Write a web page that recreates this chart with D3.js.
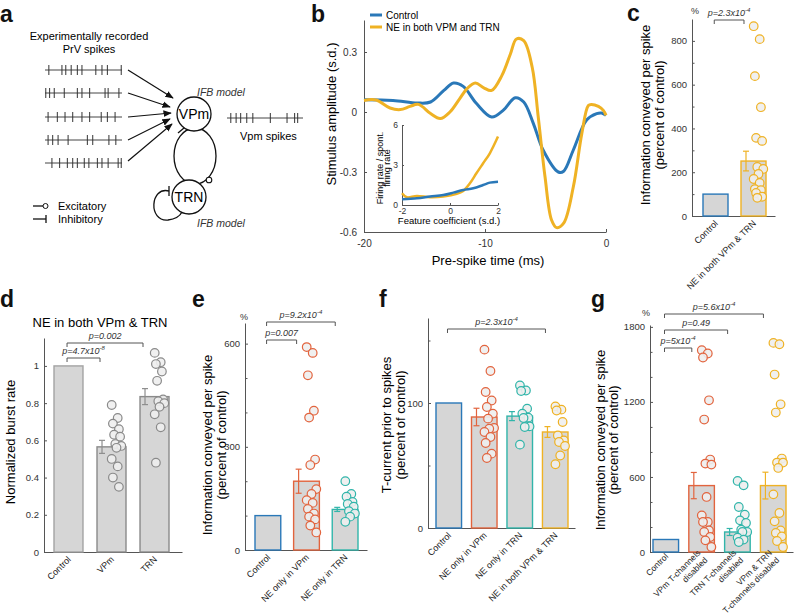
<!DOCTYPE html>
<html>
<head>
<meta charset="utf-8">
<script src="https://cdn.jsdelivr.net/npm/d3@7"></script>
<style>
  body { margin: 0; background: #fff; }
  svg { font-family: "Liberation Sans", Arial, sans-serif; }
</style>
</head>
<body>
<svg id="fig" width="800" height="614"></svg>
<script>
// ---------- data ----------
// panel a: spike times (arbitrary 0-100 window)
var prvSpikes = [
  [5, 22, 27, 34, 42, 48, 66, 74, 81, 99],
  [1, 6, 12, 25, 42, 48, 58, 78, 82, 96],
  [4, 16, 26, 36, 48, 58, 73, 81, 91],
  [4, 10, 17, 30, 55, 62, 83, 92],
  [9, 19, 29, 36, 42, 51, 57, 68, 74, 82, 95, 99]
];
var vpmSpikes = [5, 12, 18, 26, 34, 57, 79, 89, 93];

// panel b: spike-triggered stimulus
var bControlT = [-20, -17.6, -15.6, -14.5, -13.4, -12.6, -11.8, -10.7, -9.45, -8.5, -7.5, -6.8, -6.0, -5.2, -3.94, -3.5, -2.7, -1.6, -0.77, -0.36, 0];
var bControlV = [0.061, 0.058, 0.045, 0.05, 0.108, 0.145, 0.128, 0.042, -0.025, 0.008, 0.071, 0.05, -0.058, -0.19, -0.30, -0.296, -0.19, -0.04, -0.008, -0.005, -0.017];
var bNET = [-20, -19, -17.85, -17, -16.2, -15.5, -14.5, -13.7, -12.9, -12.1, -11.5, -10.8, -10.1, -9.45, -8.6, -7.9, -7.4, -6.8, -6.1, -5.6, -5.04, -4.5, -4.08, -3.5, -2.7, -2.0, -1.46, -1.2, -0.63, -0.22, 0];
var bNEV = [0.058, 0.06, 0.02, 0.012, 0.028, 0.038, -0.008, -0.033, 0.0, 0.066, 0.116, 0.145, 0.121, 0.108, 0.183, 0.29, 0.365, 0.357, 0.224, -0.025, -0.324, -0.54, -0.578, -0.556, -0.374, -0.108, 0.033, 0.038, 0.028, 0.008, -0.017];
var bTicksY = [-0.6, -0.3, 0, 0.3];
var bTicksX = [-20, -10, 0];

// panel b inset: nonlinearity
var insetControlX = [-2, -1.38, -0.83, -0.28, 0.14, 0.55, 0.97, 1.38, 1.66, 2];
var insetControlY = [0.43, 0.5, 0.63, 0.75, 0.93, 1.13, 1.25, 1.5, 1.68, 1.75];
var insetNEX = [-2, -1.8, -1.38, -0.83, -0.28, 0.28, 0.55, 0.83, 1.1, 1.38, 1.66, 2];
var insetNEY = [0.88, 0.58, 0.68, 0.58, 0.63, 0.83, 1.05, 1.63, 2.38, 3.13, 3.88, 5.13];

// panel c
var cCats = ["Control", "NE in both VPm & TRN"];
var cMeans = [100, 251];
var cErr = [0, 45];
var cPoints = [[], [867, 808, 639, 497, 357, 343, 224, 215, 192, 169, 151, 123, 118, 105, 88, 83]];

// panel d
var dCats = ["Control", "VPm", "TRN"];
var dMeans = [1, 0.565, 0.835];
var dErr = [0, 0.035, 0.043];
var dPoints = [[],
  [0.79, 0.72, 0.69, 0.66, 0.63, 0.62, 0.58, 0.57, 0.56, 0.50, 0.46, 0.40, 0.35],
  [1.07, 1.02, 1.01, 0.97, 0.92, 0.82, 0.81, 0.80, 0.78, 0.74, 0.67, 0.48]];

// panel e
var eCats = ["Control", "NE only in VPm", "NE only in TRN"];
var eMeans = [100, 200, 118];
var eErr = [0, 35, 6];
var ePoints = [[],
  [590, 573, 508, 405, 385, 263, 247, 177, 163, 145, 137, 119, 106, 97, 89, 71, 51],
  [200, 163, 155, 140, 134, 126, 113, 106, 97, 82]];

// panel f
var fCats = ["Control", "NE only in VPm", "NE only in TRN", "NE in both VPm & TRN"];
var fMeans = [100, 88.8, 89.5, 76.8];
var fErr = [0, 7, 3.6, 4.3];
var fPoints = [[],
  [142.7, 125.6, 108.8, 102, 96.8, 91.5, 87.5, 80, 79.5, 76.8, 72.8, 68, 59.5, 56],
  [114, 110, 109.6, 95.5, 91.5, 88.3, 88, 81.3, 80.8, 66.7],
  [97.3, 94.7, 94, 84.8, 74, 70, 68.8, 65.6, 58, 51]];

// panel g
var gCats = [["Control"], ["VPm T-channels", "disabled"], ["TRN T-channels", "disabled"], ["VPm & TRN", "T-channels disabled"]];
var gMeans = [100, 531, 160, 531];
var gErr = [0, 105, 28, 107];
var gPoints = [[],
  [1613, 1587, 1555, 1213, 1059, 739, 707, 699, 440, 293, 240, 240, 173, 160, 120, 93, 40],
  [568, 533, 360, 299, 253, 232, 179, 160, 160, 115, 99, 80],
  [1672, 1661, 1419, 1181, 1115, 747, 715, 715, 672, 461, 312, 245, 173, 152, 125, 88, 40]];

// ---------- style ----------
var BLUE = "#2a78b8", GOLD = "#efb224", RED = "#e2643e", TEAL = "#31b5aa", GRAY = "#8e8e8e";
var AX = "#555";

var svg = d3.select("#fig");

function styleAxis(sel, fs) {
  sel.attr("font-family", null).attr("font-size", fs);
  sel.selectAll("path, line").attr("stroke", AX).attr("stroke-width", 1);
  sel.selectAll("text").attr("fill", "#333");
}

function panelLabel(t, x, y) {
  svg.append("text").attr("x", x).attr("y", y).attr("font-size", 23)
    .attr("font-weight", "bold").attr("fill", "#111").text(t);
}

function pText(sel, x, y, t, sup) {
  var tx = sel.append("text").attr("x", x).attr("y", y).attr("text-anchor", "middle")
    .attr("font-size", 9).attr("font-style", "italic").attr("fill", "#333");
  tx.append("tspan").text(t);
  if (sup) tx.append("tspan").attr("font-size", 6).attr("dy", -4).text(sup);
}

// ---------- panel a ----------
function drawA() {
  var g = svg.append("g");
  var t = d3.scaleLinear().domain([0, 100]).range([45, 122]);
  var rowY = [70, 93, 117, 140, 163];
  prvSpikes.forEach(function(train, i) {
    var y = rowY[i];
    g.append("line").attr("x1", 45).attr("x2", 122).attr("y1", y).attr("y2", y)
      .attr("stroke", "#444").attr("stroke-width", 1);
    g.selectAll(null).data(train).enter().append("line")
      .attr("x1", function(d) { return t(d); }).attr("x2", function(d) { return t(d); })
      .attr("y1", y - 5).attr("y2", y + 5).attr("stroke", "#333").attr("stroke-width", 1);
  });

  svg.append("defs").append("marker").attr("id", "arr")
    .attr("viewBox", "0 0 10 10").attr("refX", 9).attr("refY", 5)
    .attr("markerWidth", 7).attr("markerHeight", 7).attr("orient", "auto")
    .append("path").attr("d", "M0,1 L10,5 L0,9 Z").attr("fill", "#111");

  var ends = [[173, 98], [170, 107], [171, 113], [170, 119], [172, 124]];
  var starts = [[128, 70], [128, 93], [128, 117], [128, 140], [128, 161]];
  starts.forEach(function(s, i) {
    g.append("line").attr("x1", s[0]).attr("y1", s[1]).attr("x2", ends[i][0]).attr("y2", ends[i][1])
      .attr("stroke", "#111").attr("stroke-width", 1.2).attr("marker-end", "url(#arr)");
  });

  // loop between VPm and TRN
  g.append("ellipse").attr("cx", 195).attr("cy", 156).attr("rx", 21).attr("ry", 28)
    .attr("fill", "none").attr("stroke", "#111").attr("stroke-width", 1.3);
  g.append("circle").attr("cx", 194).attr("cy", 114).attr("r", 17)
    .attr("fill", "#fff").attr("stroke", "#111").attr("stroke-width", 1.3);
  g.append("circle").attr("cx", 189).attr("cy", 197).attr("r", 17)
    .attr("fill", "#fff").attr("stroke", "#111").attr("stroke-width", 1.3);
  // inhibitory end at VPm
  g.append("line").attr("x1", 178).attr("y1", 133).attr("x2", 184).attr("y2", 128)
    .attr("stroke", "#111").attr("stroke-width", 1.3);
  // excitatory end at TRN
  g.append("circle").attr("cx", 209).attr("cy", 180).attr("r", 2.8)
    .attr("fill", "#fff").attr("stroke", "#111").attr("stroke-width", 1.1);
  // TRN self loop
  g.append("path").attr("d", "M169,191 C150,186 148,222 168,220 C176,219 180,216 182,212")
    .attr("fill", "none").attr("stroke", "#111").attr("stroke-width", 1.3);
  g.append("line").attr("x1", 169).attr("y1", 186).attr("x2", 169).attr("y2", 196)
    .attr("stroke", "#111").attr("stroke-width", 1.3);

  g.append("text").attr("x", 194).attr("y", 119).attr("text-anchor", "middle")
    .attr("font-size", 14).text("VPm");
  g.append("text").attr("x", 189).attr("y", 202).attr("text-anchor", "middle")
    .attr("font-size", 14).text("TRN");
  g.append("text").attr("x", 197).attr("y", 96).attr("font-size", 10.5)
    .attr("font-style", "italic").attr("fill", "#333").text("IFB model");
  g.append("text").attr("x", 197).attr("y", 227).attr("font-size", 10.5)
    .attr("font-style", "italic").attr("fill", "#333").text("IFB model");

  // output spike train
  var t2 = d3.scaleLinear().domain([0, 100]).range([227, 303]);
  g.append("line").attr("x1", 227).attr("x2", 303).attr("y1", 118).attr("y2", 118)
    .attr("stroke", "#444");
  g.selectAll(null).data(vpmSpikes).enter().append("line")
    .attr("x1", function(d) { return t2(d); }).attr("x2", function(d) { return t2(d); })
    .attr("y1", 113).attr("y2", 123).attr("stroke", "#333");
  g.append("text").attr("x", 240).attr("y", 140).attr("font-size", 11).text("Vpm spikes");

  g.append("text").attr("x", 89).attr("y", 40).attr("text-anchor", "middle")
    .attr("font-size", 11).text("Experimentally recorded");
  g.append("text").attr("x", 89).attr("y", 53).attr("text-anchor", "middle")
    .attr("font-size", 11).text("PrV spikes");

  // legend
  g.append("line").attr("x1", 33).attr("x2", 43).attr("y1", 206).attr("y2", 206).attr("stroke", "#111").attr("stroke-width", 1.3);
  g.append("circle").attr("cx", 45.5).attr("cy", 206).attr("r", 2.5).attr("fill", "#fff").attr("stroke", "#111");
  g.append("line").attr("x1", 33).attr("x2", 46).attr("y1", 219).attr("y2", 219).attr("stroke", "#111").attr("stroke-width", 1.3);
  g.append("line").attr("x1", 46).attr("x2", 46).attr("y1", 215).attr("y2", 223).attr("stroke", "#111").attr("stroke-width", 1.3);
  g.append("text").attr("x", 58).attr("y", 210).attr("font-size", 11).text("Excitatory");
  g.append("text").attr("x", 58).attr("y", 223).attr("font-size", 11).text("Inhibitory");
}

// ---------- panel b ----------
function drawB() {
  var g = svg.append("g");
  var x = d3.scaleLinear().domain([-20, 0]).range([364, 606]);
  var y = d3.scaleLinear().domain([-0.6, 0.46]).range([232, 20]);

  g.append("g").attr("transform", "translate(364,0)")
    .call(d3.axisLeft(y).tickValues(bTicksY).tickFormat(String).tickSize(-3).tickSizeOuter(0).tickPadding(7))
    .call(styleAxis, 10);
  g.append("g").attr("transform", "translate(0,232)")
    .call(d3.axisBottom(x).tickValues(bTicksX).tickFormat(String).tickSize(-3).tickSizeOuter(0).tickPadding(8))
    .call(styleAxis, 10);

  var line = d3.line().x(function(d) { return x(d[0]); }).y(function(d) { return y(d[1]); })
    .curve(d3.curveCatmullRom.alpha(0.5));
  g.append("path").datum(d3.zip(bControlT, bControlV)).attr("d", line)
    .attr("fill", "none").attr("stroke", BLUE).attr("stroke-width", 3);
  g.append("path").datum(d3.zip(bNET, bNEV)).attr("d", line)
    .attr("fill", "none").attr("stroke", GOLD).attr("stroke-width", 3);

  g.append("text").attr("transform", "translate(336,114) rotate(-90)").attr("text-anchor", "middle")
    .attr("font-size", 13).text("Stimulus amplitude (s.d.)");
  g.append("text").attr("x", 488).attr("y", 265).attr("text-anchor", "middle")
    .attr("font-size", 13).text("Pre-spike time (ms)");

  // legend
  var leg = [["Control", BLUE, 15], ["NE in both VPM and TRN", GOLD, 27]];
  leg.forEach(function(l) {
    g.append("line").attr("x1", 370).attr("x2", 382).attr("y1", l[2]).attr("y2", l[2])
      .attr("stroke", l[1]).attr("stroke-width", 3);
    g.append("text").attr("x", 386).attr("y", l[2] + 3.5).attr("font-size", 10).text(l[0]);
  });

  // inset
  var xi = d3.scaleLinear().domain([-2, 2]).range([402, 498]);
  var yi = d3.scaleLinear().domain([0, 6]).range([205, 125]);
  g.append("g").attr("transform", "translate(402,0)")
    .call(d3.axisLeft(yi).tickValues([0, 3, 6]).tickFormat(String).tickSize(-2).tickSizeOuter(0).tickPadding(4))
    .call(styleAxis, 8.5);
  g.append("g").attr("transform", "translate(0,205)")
    .call(d3.axisBottom(xi).tickValues([-2, 0, 2]).tickFormat(String).tickSize(-2).tickSizeOuter(0).tickPadding(3))
    .call(styleAxis, 8.5);
  var iline = d3.line().x(function(d) { return xi(d[0]); }).y(function(d) { return yi(d[1]); })
    .curve(d3.curveCatmullRom.alpha(0.5));
  g.append("path").datum(d3.zip(insetNEX, insetNEY)).attr("d", iline)
    .attr("fill", "none").attr("stroke", GOLD).attr("stroke-width", 2.5);
  g.append("path").datum(d3.zip(insetControlX, insetControlY)).attr("d", iline)
    .attr("fill", "none").attr("stroke", BLUE).attr("stroke-width", 2.5);
  g.append("text").attr("transform", "translate(383,168) rotate(-90)").attr("text-anchor", "middle")
    .attr("font-size", 9).text("Firing rate / spont.");
  g.append("text").attr("transform", "translate(390,168) rotate(-90)").attr("text-anchor", "middle")
    .attr("font-size", 9).text("firing rate");
  g.append("text").attr("x", 449).attr("y", 224).attr("text-anchor", "middle")
    .attr("font-size", 9.5).text("Feature coefficient (s.d.)");
}

// ---------- bar panels ----------
function jit(j) { return ((j * 5) % 9 - 4) * 1.2; }

function barPanel(p) {
  var g = svg.append("g");
  var x = d3.scaleBand().domain(d3.range(p.means.length)).range(p.xr).paddingInner(p.pad).paddingOuter(0);
  var y = d3.scaleLinear().domain(p.yd).range(p.yr);
  var bw = x.bandwidth();
  var labFs = p.labFs || 9, labDy = p.labDy || 8;

  // axes
  g.append("g").attr("transform", "translate(" + p.yAxisX + ",0)")
    .call(d3.axisLeft(y).tickValues(p.ticks).tickFormat(String).tickSize(-3).tickSizeOuter(0).tickPadding(5))
    .call(styleAxis, 9.5);
  if (p.minor) {
    g.append("g").attr("transform", "translate(" + p.yAxisX + ",0)")
      .call(d3.axisLeft(y).tickValues(p.minor).tickFormat("").tickSize(-2.5).tickSizeOuter(0))
      .call(styleAxis, 9.5)
      .select(".domain").remove();
  }
  g.append("g").attr("transform", "translate(0," + y(0) + ")")
    .call(d3.axisBottom(d3.scaleLinear().range(p.axisX)).tickValues([]).tickSizeOuter(0))
    .call(styleAxis, 9.5);

  // bars
  g.selectAll(".bar").data(p.means).enter().append("rect")
    .attr("x", function(d, i) { return x(i); })
    .attr("y", function(d) { return y(d); })
    .attr("width", bw)
    .attr("height", function(d) { return y(0) - y(d); })
    .attr("fill", "#d6d6d6")
    .attr("stroke", function(d, i) { return p.colors[i]; })
    .attr("stroke-width", 1.4);

  // points
  p.points.forEach(function(arr, i) {
    g.selectAll(null).data(arr).enter().append("circle")
      .attr("cx", function(d, j) { return x(i) + bw / 2 + 5 + jit(j); })
      .attr("cy", function(d) { return y(d); })
      .attr("r", 4.3)
      .attr("fill", "#eeeeee").attr("fill-opacity", 0.9)
      .attr("stroke", p.colors[i]).attr("stroke-width", 1.2);
  });

  // error bars
  p.means.forEach(function(m, i) {
    if (!p.err[i]) return;
    var ex = x(i) + 5;
    var c = p.errColors ? p.errColors[i] : p.colors[i];
    g.append("line").attr("x1", ex).attr("x2", ex).attr("y1", y(m - p.err[i])).attr("y2", y(m + p.err[i]))
      .attr("stroke", c).attr("stroke-width", 1.2);
    [m - p.err[i], m + p.err[i]].forEach(function(v) {
      g.append("line").attr("x1", ex - 3).attr("x2", ex + 3).attr("y1", y(v)).attr("y2", y(v))
        .attr("stroke", c).attr("stroke-width", 1.2);
    });
  });

  // category labels
  var labs = g.selectAll(".xl").data(p.cats).enter().append("text")
    .attr("transform", function(d, i) {
      return "translate(" + (x(i) + bw / 2 + 3) + "," + (y(0) + labDy) + ") rotate(-45)";
    })
    .attr("text-anchor", "end").attr("font-size", labFs).attr("fill", "#222");
  labs.each(function(d) {
    var lines = Array.isArray(d) ? d : [d];
    var t = d3.select(this);
    lines.forEach(function(s, k) {
      t.append("tspan").attr("x", 0).attr("y", (k - (lines.length - 1) / 2) * 10).text(s);
    });
  });

  // significance brackets
  (p.brackets || []).forEach(function(b) {
    var x1 = x(b.a) + bw * 0.45, x2 = x(b.b) + 3;
    g.append("path").attr("d", "M" + x1 + "," + (b.y + 4) + "V" + b.y + "H" + x2 + "V" + (b.y + 4))
      .attr("fill", "none").attr("stroke", AX).attr("stroke-width", 1);
    pText(g, (x1 + x2) / 2, b.y - 4, b.t, b.s);
  });

  if (p.pct) {
    g.append("text").attr("x", p.pct[0]).attr("y", p.pct[1]).attr("text-anchor", "middle")
      .attr("font-size", 9).attr("fill", "#333").text("%");
  }
  p.ylab.forEach(function(l) {
    g.append("text").attr("transform", "translate(" + l[1] + "," + p.ylabY + ") rotate(-90)")
      .attr("text-anchor", "middle").attr("font-size", 13).text(l[0]);
  });
}

drawA();
drawB();

barPanel({
  cats: cCats, means: cMeans, err: cErr, points: cPoints, colors: [BLUE, GOLD],
  xr: [703, 766], pad: 0.342, yd: [0, 900], yr: [216, 19],
  ticks: [0, 200, 400, 600, 800], minor: [100, 300, 500, 700],
  yAxisX: 692, axisX: [692, 775], pct: [695, 14],
  brackets: [{a: 0, b: 1, y: 20, t: "p=2.3x10", s: "-4"}],
  ylab: [["Information conveyed per spike", 650], ["(percent of control)", 664]], ylabY: 115
});

barPanel({
  cats: dCats, means: dMeans, err: dErr, points: dPoints,
  colors: ["#a3a3a3", "#8a8a8a", "#8a8a8a"], errColors: [GRAY, GRAY, GRAY],
  xr: [54, 169], pad: 0.326, yd: [0, 1.15], yr: [552, 338],
  ticks: [0, 0.2, 0.4, 0.6, 0.8, 1],
  yAxisX: 44, axisX: [44, 182],
  brackets: [{a: 0, b: 2, y: 343, t: "p=0.002"}, {a: 0, b: 1, y: 358, t: "p=4.7x10", s: "-8"}],
  ylab: [["Normalized burst rate", 15]], ylabY: 442
});
svg.append("text").attr("x", 100).attr("y", 327).attr("text-anchor", "middle")
  .attr("font-size", 13).text("NE in both VPm & TRN");

barPanel({
  cats: eCats, means: eMeans, err: eErr, points: ePoints, colors: [BLUE, RED, TEAL],
  xr: [255, 358], pad: 0.333, yd: [0, 660], yr: [550, 323],
  ticks: [0, 300, 600], minor: [100, 200, 400, 500],
  yAxisX: 245, axisX: [245, 367], pct: [244, 320],
  brackets: [{a: 0, b: 2, y: 322, t: "p=9.2x10", s: "-4"}, {a: 0, b: 1, y: 340, t: "p=0.007"}],
  ylab: [["Information conveyed per spike", 212], ["(percent of control)", 226]], ylabY: 445
});

barPanel({
  cats: fCats, means: fMeans, err: fErr, points: fPoints, colors: [BLUE, RED, TEAL, GOLD],
  xr: [436, 568], pad: 0.28, yd: [0, 168], yr: [528, 318],
  ticks: [0, 100], minor: [50, 150],
  yAxisX: 428, axisX: [428, 575],
  brackets: [{a: 0, b: 3, y: 329, t: "p=2.3x10", s: "-4"}],
  ylab: [["T-current prior to spikes", 391], ["(percent of control)", 405]], ylabY: 425
});

barPanel({
  cats: gCats, means: gMeans, err: gErr, points: gPoints, colors: [BLUE, RED, TEAL, GOLD],
  xr: [653, 786], pad: 0.286, yd: [0, 1815], yr: [552, 325],
  ticks: [0, 600, 1200, 1800], minor: [200, 400, 800, 1000, 1400, 1600],
  yAxisX: 650, axisX: [650, 793], pct: [646, 316],
  brackets: [{a: 0, b: 3, y: 314, t: "p=5.6x10", s: "-4"}, {a: 0, b: 2, y: 330, t: "p=0.49"},
             {a: 0, b: 1, y: 348, t: "p=5x10", s: "-4"}],
  ylab: [["Information conveyed per spike", 605], ["(percent of control)", 618]], ylabY: 440,
  labFs: 8.5, labDy: 5
});

panelLabel("a", 0, 22);
panelLabel("b", 311, 22);
panelLabel("c", 627, 21);
panelLabel("d", 0, 307);
panelLabel("e", 192, 307);
panelLabel("f", 379, 307);
panelLabel("g", 591, 307);
</script>
</body>
</html>
